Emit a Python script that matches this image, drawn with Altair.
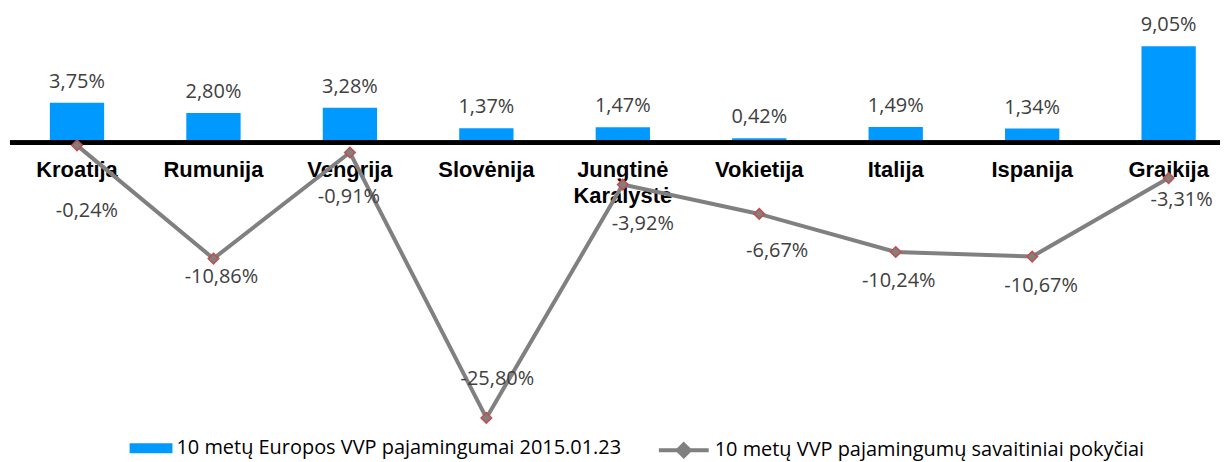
import altair as alt
import pandas as pd

countries = ["Kroatija", "Rumunija", "Vengrija", "Slovėnija", "Jungtinė\nKaralystė",
             "Vokietija", "Italija", "Ispanija", "Graikija"]
yields_2015 = [3.75, 2.80, 3.28, 1.37, 1.47, 0.42, 1.49, 1.34, 9.05]
weekly_change = [-0.24, -10.86, -0.91, -25.80, -3.92, -6.67, -10.24, -10.67, -3.31]
bar_series = "10 metų Europos VVP pajamingumai 2015.01.23"
line_series = "10 metų VVP pajamingumų savaitiniai pokyčiai"

# manual placement of the line's value labels (pixel nudges, like Excel's hand-placed labels)
label_dx = [10, 8, -1, 11, 20, 18, 3, 9, 13]
label_dy = [66, 18, 45, -39, 40, 37, 29, 30, 22]

df = pd.DataFrame({
    "country": countries,
    "yield": yields_2015,
    "change": weekly_change,
    "s_bar": bar_series,
    "s_line": line_series,
    "idx": list(range(len(countries))),
})

BLUE = "#0099FF"
GRAY = "#808080"
RED = "#C0504D"
LABEL_FONT = "Open Sans"
FMT = "replace(replace(format(datum.{f}, '.2f'), '.', ','), '\u2212', '-') + '%'"

x_enc = alt.X("country:N", sort=countries, axis=None,
              scale=alt.Scale(paddingInner=0.602, paddingOuter=0.2348, align=0.622))
y_scale = alt.Scale(domain=[-26.31, 12.57], nice=False, zero=False)

base = alt.Chart(df)

bars = base.mark_bar().encode(
    x=x_enc,
    y=alt.Y("yield:Q", scale=y_scale, axis=None),
    color=alt.Color("s_bar:N", scale=alt.Scale(domain=[bar_series], range=[BLUE]),
                    legend=alt.Legend(title=None, orient="none", legendX=120, legendY=419.5,
                                      symbolType="M-1,-0.23H1V0.23H-1Z",
                                      symbolSize=1849, symbolStrokeWidth=0,
                                      labelOffset=4)),
)

bar_labels = base.mark_text(font=LABEL_FONT, fontSize=20, color="#404040",
                            baseline="alphabetic", dy=-15).transform_calculate(
    lab=FMT.format(f="yield")
).encode(x=x_enc, y=alt.Y("yield:Q", scale=y_scale), text="lab:N")

zero_line = base.mark_rule(color="black", strokeWidth=4).encode(y=alt.datum(0))

cat_labels = base.mark_text(font="Liberation Sans", fontWeight="bold", fontSize=22,
                            color="black", baseline="top", dy=17, lineBreak="\n",
                            lineHeight=26).encode(
    x=x_enc, y=alt.datum(0), text="country:N")

line = base.mark_line(strokeWidth=4).encode(
    x=x_enc,
    y=alt.Y("change:Q", scale=y_scale),
    stroke=alt.Stroke("s_line:N", scale=alt.Scale(domain=[line_series], range=[GRAY]),
                      legend=alt.Legend(title=None, orient="none", legendX=649, legendY=416,
                                        symbolType="M-1,0H-0.26M0.26,0H1M0,-0.24L0.24,0L0,0.24L-0.24,0Z",
                                        symbolSize=2500, symbolStrokeWidth=4,
                                        symbolFillColor=GRAY, labelOffset=4)),
)

points = base.mark_point(shape="diamond", filled=True, fill=GRAY, stroke=RED,
                         strokeWidth=1.6, size=110, opacity=1).encode(
    x=x_enc, y=alt.Y("change:Q", scale=y_scale))

line_label_layers = []
for i in range(len(countries)):
    line_label_layers.append(
        base.transform_filter(alt.datum.idx == i).transform_calculate(
            lab=FMT.format(f="change")
        ).mark_text(font=LABEL_FONT, fontSize=20, color="#404040", baseline="middle",
                    dx=label_dx[i], dy=label_dy[i]).encode(
            x=x_enc, y=alt.Y("change:Q", scale=y_scale), text="lab:N")
    )

chart = alt.layer(bars, zero_line, bar_labels, cat_labels, line, points,
                  *line_label_layers).properties(
    width=1214, height=416, padding={"left": 0, "right": 0, "top": 0, "bottom": 0}
).configure_view(stroke=None).configure_legend(
    labelFont=LABEL_FONT, labelFontSize=20, labelColor="black",
    labelLimit=700, padding=0
)

chart.save("out.html", embed_options={"renderer": "svg", "actions": False})
